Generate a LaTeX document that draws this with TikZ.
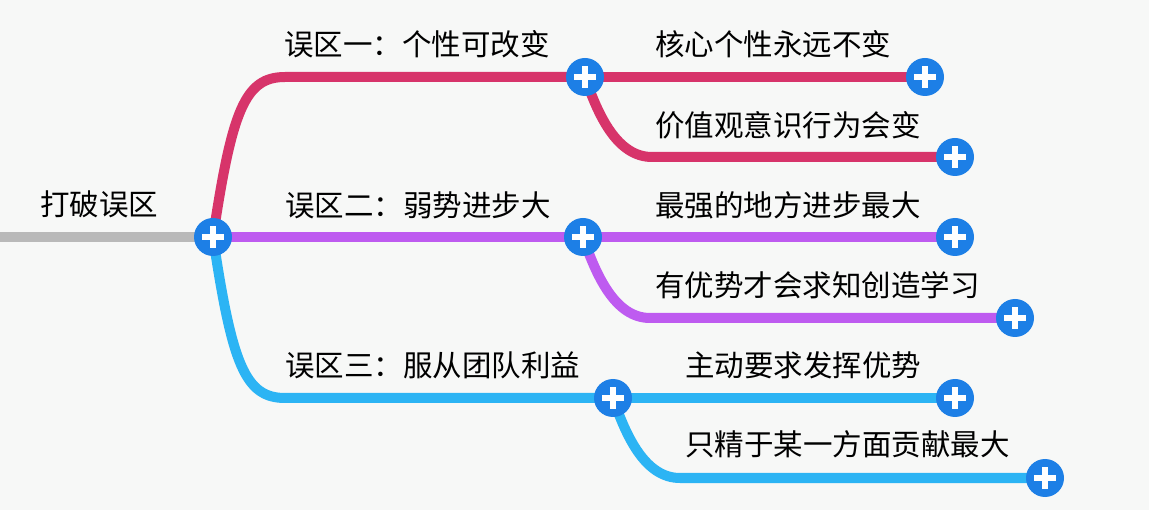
\documentclass[tikz,border=0pt]{standalone}
\usepackage{fontspec}
\newfontfamily\cjk{Noto Sans CJK SC}
\usetikzlibrary{backgrounds}

\definecolor{bgcol}{HTML}{F7F8F7}
\definecolor{rootcol}{HTML}{B9B9B9}
\definecolor{pinkcol}{HTML}{D7346A}
\definecolor{purplecol}{HTML}{BE5BF0}
\definecolor{cyancol}{HTML}{2CB4F4}
\definecolor{pluscol}{HTML}{1D7FE6}

\tikzset{
	plusnode/.style={circle, fill=pluscol, minimum size=38pt, inner sep=0pt,
		path picture={
			\draw[white, line width=6.5pt] ([xshift=-11pt]path picture bounding box.center) -- ([xshift=11pt]path picture bounding box.center);
			\draw[white, line width=6.5pt] ([yshift=-11pt]path picture bounding box.center) -- ([yshift=11pt]path picture bounding box.center);
		}},
	topic/.style={anchor=west, inner sep=0pt, font=\cjk\fontsize{29.5}{30}\selectfont},
	branch/.style={line width=10pt}
}

\begin{document}
\begin{tikzpicture}[x=1pt, y=-1pt]
				\useasboundingbox (0,0) rectangle (1149,510);
				
				\node [plusnode] (root) at (213,237){};
				\node [topic] (rootlabel) at (40,204){打破误区};
				
				\node [plusnode] (mis1) at (585,77){};
				\node [topic] (mis1label) at (284,44){误区一：个性可改变};
				\node [plusnode] (core) at (925,77){};
				\node [topic] (corelabel) at (655,44){核心个性永远不变};
				\node [plusnode] (value) at (955,157){};
				\node [topic] (valuelabel) at (655,125){价值观意识行为会变};
				
				\node [plusnode] (mis2) at (583,237){};
				\node [topic] (mis2label) at (285,205){误区二：弱势进步大};
				\node [plusnode] (strong) at (955,237){};
				\node [topic] (stronglabel) at (655,205){最强的地方进步最大};
				\node [plusnode] (learn) at (1015,318){};
				\node [topic] (learnlabel) at (655,285){有优势才会求知创造学习};
				
				\node [plusnode] (mis3) at (613,398){};
				\node [topic] (mis3label) at (285,365){误区三：服从团队利益};
				\node [plusnode] (active) at (955,398){};
				\node [topic] (activelabel) at (685,365){主动要求发挥优势};
				\node [plusnode] (expert) at (1045,478){};
				\node [topic] (expertlabel) at (685,444){只精于某一方面贡献最大};
				
				\begin{scope}[on background layer]
				\fill[bgcol] (0,0) rectangle (1149,510);
				\draw[branch, rootcol] (root.center) -- ++(-220,0);
				
				\draw[branch, pinkcol] (root.center) .. controls +(19,-127) and +(-40,0) .. ++(72,-160) -- (mis1.center);
				\draw[branch, pinkcol] (mis1.center) -- (core.center);
				\draw[branch, pinkcol] (mis1.center) .. controls +(13,38) and +(-35,0) .. ++(67,80) -- (value.center);
				
				\draw[branch, purplecol] (root.center) -- (mis2.center);
				\draw[branch, purplecol] (mis2.center) -- (strong.center);
				\draw[branch, purplecol] (mis2.center) .. controls +(13,38) and +(-35,0) .. ++(67,81) -- (learn.center);
				
				\draw[branch, cyancol] (root.center) .. controls +(19,127) and +(-40,0) .. ++(72,161) -- (mis3.center);
				\draw[branch, cyancol] (mis3.center) -- (active.center);
				\draw[branch, cyancol] (mis3.center) .. controls +(13,38) and +(-35,0) .. ++(67,80) -- (expert.center);
				\end{scope}
			\end{tikzpicture}
\end{document}
